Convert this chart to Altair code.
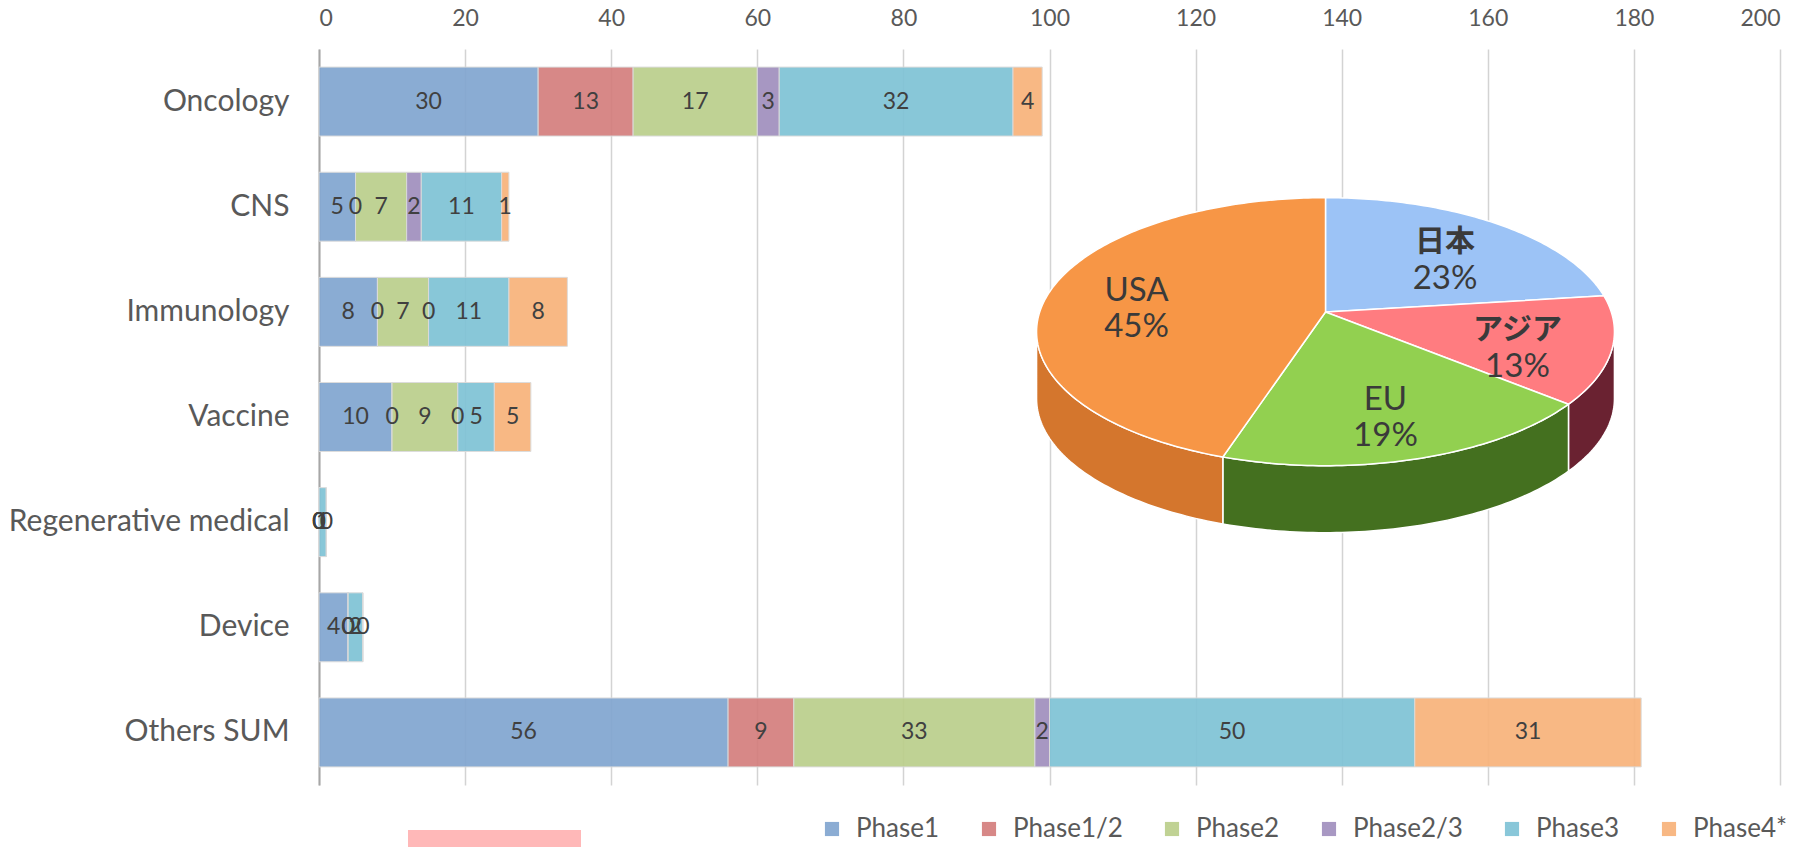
import altair as alt
import numpy as np
import pandas as pd

# ---------------- data ----------------
categories = ["Oncology", "CNS", "Immunology", "Vaccine",
              "Regenerative medical", "Device", "Others SUM"]
phases = ["Phase1", "Phase1/2", "Phase2", "Phase2/3", "Phase3", "Phase4*"]
phase1 = [30, 5, 8, 10, 0, 4, 56]
phase1_2 = [13, 0, 0, 0, 0, 0, 9]
phase2 = [17, 7, 7, 9, 0, 0, 33]
phase2_3 = [3, 2, 0, 0, 0, 0, 2]
phase3 = [32, 11, 11, 5, 1, 2, 50]
phase4 = [4, 1, 8, 5, 0, 0, 31]
x_ticks = [0, 20, 40, 60, 80, 100, 120, 140, 160, 180, 200]

regions = ["日本", "アジア", "EU", "USA"]
shares = [23, 13, 19, 45]

# ---------------- styles ----------------
phase_colors = ["#82A6D0", "#D47F7E", "#BBCF8C", "#A190BE", "#80C3D6", "#F8B37B"]
pie_top_colors = ["#9CC3F6", "#FF7C80", "#92D050", "#F79646"]
pie_side_colors = ["#5A7FB0", "#6A2231", "#44701F", "#D4762D"]
LABEL_FONT = "Lato"

PW, PH = 1461, 736           # plot area
CX, APEX_Y = 1006.5, 263.0   # pie apex (plot px)
A_PIE, B_PIE, K_PERSP = 285.8, 131.1, 0.147   # projected circle (perspective)
DEPTH = 67.0

# ---------------- bar table ----------------
series = [phase1, phase1_2, phase2, phase2_3, phase3, phase4]
rows = []
for ci, c in enumerate(categories):
    for pi, p in enumerate(phases):
        rows.append({"category": c, "phase": p, "order": pi, "value": series[pi][ci]})
bar_df = pd.DataFrame(rows)

base = alt.Chart(bar_df).transform_stack(
    stack="value", groupby=["category"], sort=[alt.SortField("order")], as_=["x0", "x1"]
).transform_calculate(mid="(datum.x0 + datum.x1) / 2")

xscale = alt.Scale(domain=[0, 200], nice=False, zero=True)
yscale = alt.Scale(domain=categories, paddingInner=0.344, paddingOuter=0.172)

bars = base.mark_bar(stroke="#DADADA", strokeWidth=1, opacity=0.93).encode(
    x=alt.X("x0:Q", scale=xscale,
            axis=alt.Axis(orient="top", values=x_ticks, title=None, domain=False,
                          ticks=False, grid=True, gridColor="#D3D3D3", gridWidth=1.5,
                          labelFont=LABEL_FONT, labelFontSize=23, labelColor="#595959",
                          labelPadding=19)),
    x2="x1:Q",
    y=alt.Y("category:N", scale=yscale,
            axis=alt.Axis(title=None, ticks=False, domain=True, domainColor="#A6A6A6",
                          domainWidth=2, grid=False, labelFont=LABEL_FONT,
                          labelFontSize=30, labelColor="#595959", labelPadding=30,
                          labelLimit=400)),
    color=alt.Color("phase:N", scale=alt.Scale(domain=phases, range=phase_colors),
                    legend=alt.Legend(orient="none", legendX=500, legendY=767,
                                      direction="horizontal", title=None,
                                      symbolType="square", symbolSize=200,
                                      symbolStrokeWidth=0, labelFont=LABEL_FONT,
                                      labelFontSize=26, labelColor="#595959",
                                      columnPadding=36, labelOffset=11)),
)

bar_text = base.mark_text(font=LABEL_FONT, fontSize=23, color="#404040").encode(
    x=alt.X("mid:Q", scale=xscale),
    y=alt.Y("category:N", scale=yscale),
    text="value:Q",
)

bar_layer = alt.layer(bars, bar_text)

# ---------------- pie geometry (derived from shares) ----------------
def proj(theta_deg, f=1.0, dy=0.0):
    t = np.radians(theta_deg)
    u, v = f * np.sin(t), -f * np.cos(t)
    w = 1.0 - K_PERSP * v
    return CX + A_PIE * u / w, APEX_Y + B_PIE * v / w + dy

edge = np.degrees(np.arccos(-K_PERSP))          # silhouette of the side wall
cum = np.cumsum([0] + shares) / sum(shares) * 360.0
top_rows, side_rows, lab_rows = [], [], []
for k, r in enumerate(regions):
    t0, t1 = cum[k], cum[k + 1]
    ts = np.linspace(t0, t1, int(t1 - t0) + 2)
    pts = [(CX, APEX_Y)] + [proj(t) for t in ts] + [(CX, APEX_Y)]
    for i, (x, y) in enumerate(pts):
        top_rows.append({"region": r, "i": i, "px": x, "py": y})
    a, b = max(t0, edge), min(t1, 360.0 - edge)
    if a < b:
        ss = np.linspace(a, b, int(b - a) + 2)
        spts = [proj(t) for t in ss] + [proj(t, dy=DEPTH) for t in ss[::-1]]
        spts.append(spts[0])
        for i, (x, y) in enumerate(spts):
            side_rows.append({"region": r, "i": i, "px": x, "py": y})
    lx, ly = proj((t0 + t1) / 2, f=0.68, dy=11.0)
    lab_rows.append({"region": r, "pct": f"{shares[k]}%", "lx": lx, "ly": ly})

top_df = pd.DataFrame(top_rows)
side_df = pd.DataFrame(side_rows)
lab_df = pd.DataFrame(lab_rows)

pxs = alt.Scale(domain=[0, PW], nice=False, zero=False)
pys = alt.Scale(domain=[0, PH], nice=False, zero=False, reverse=True)

sides = alt.Chart(side_df).mark_line(filled=True, stroke="white", strokeWidth=1.5,
                                     strokeJoin="round").encode(
    x=alt.X("px:Q", scale=pxs, axis=None),
    y=alt.Y("py:Q", scale=pys, axis=None),
    order="i:Q",
    detail="region:N",
    color=alt.Color("region:N", scale=alt.Scale(domain=regions, range=pie_side_colors),
                    legend=None),
)

tops = alt.Chart(top_df).mark_line(filled=True, stroke="white", strokeWidth=1.5,
                                   strokeJoin="round").encode(
    x=alt.X("px:Q", scale=pxs, axis=None),
    y=alt.Y("py:Q", scale=pys, axis=None),
    order="i:Q",
    detail="region:N",
    color=alt.Color("region:N", scale=alt.Scale(domain=regions, range=pie_top_colors),
                    legend=None),
)

lab_base = alt.Chart(lab_df).encode(
    x=alt.X("lx:Q", scale=pxs, axis=None),
    y=alt.Y("ly:Q", scale=pys, axis=None),
)
names_cjk = lab_base.transform_filter("test(/[^\\x00-\\x7F]/, datum.region)").mark_text(
    font="Noto Sans CJK JP", fontWeight="bold", fontSize=30, color="#3A3A3A", dy=-19
).encode(text="region:N")
names_lat = lab_base.transform_filter("!test(/[^\\x00-\\x7F]/, datum.region)").mark_text(
    font=LABEL_FONT, fontSize=33, color="#3A3A3A", dy=-18
).encode(text="region:N")
pcts = lab_base.mark_text(font=LABEL_FONT, fontSize=33, color="#3A3A3A", dy=18).encode(
    text="pct:N")

pie_layer = alt.layer(sides, tops, names_cjk, names_lat, pcts).resolve_scale(color="independent")

# decorative pink swatch at the bottom left
pink = alt.Chart(pd.DataFrame({"a": [0]})).mark_rect(color="#FFB8B8").encode(
    x=alt.value(89), x2=alt.value(262), y=alt.value(781), y2=alt.value(800)
)

chart = alt.layer(bar_layer, pie_layer, pink).resolve_scale(
    x="independent", y="independent", color="independent"
).properties(
    width=PW, height=PH,
    autosize=alt.AutoSizeParams(type="none"),
    padding={"left": 319, "top": 49, "right": 32, "bottom": 62},
).configure_view(stroke=None)

chart.save("out.html", embed_options={"renderer": "svg", "actions": False})
